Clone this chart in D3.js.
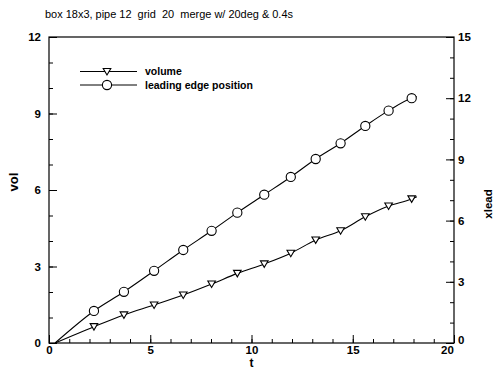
<!DOCTYPE html>
<html>
<head>
<meta charset="utf-8">
<script src="https://cdn.jsdelivr.net/npm/d3@7"></script>
<style>
    body { margin: 0; background: #fff; }
    text { font-family: "Liberation Sans", Arial, sans-serif; fill: #000; }
</style>
</head>
<body>
<div id="chart"></div>
<script>
/**
 * Data. First and last entries are the curve ends (no marker).
 */
const tValues = [0.3, 2.22, 3.70, 5.19, 6.63, 8.03, 9.30, 10.63, 11.94, 13.17, 14.40, 15.62, 16.77, 17.91, 18.17];
const volValues = [0, 0.64, 1.10, 1.49, 1.88, 2.31, 2.73, 3.10, 3.52, 4.04, 4.40, 4.95, 5.37, 5.65, 5.74];
const xleadValues = [0, 1.57, 2.51, 3.54, 4.56, 5.50, 6.39, 7.27, 8.14, 9.02, 9.79, 10.64, 11.39, 12.0, 12.07];

const xTicks = [0, 5, 10, 15, 20];
const volTicks = [0, 3, 6, 9, 12];
const xleadTicks = [0, 3, 6, 9, 12, 15];

const legendLabels = ["volume", "leading edge position"];
const titleText = "box 18x3, pipe 12  grid  20  merge w/ 20deg & 0.4s";

/**
 * Proportions of the SVG
 */
let svgWidth = 494;
let svgHeight = 370;

let plotLeft = 49;
let plotRight = 454;
let plotTop = 37;
let plotBottom = 343;

let majorTick = 8;
let minorTick = 4;

const x = d3.scaleLinear().domain([0, 20]).range([plotLeft, plotRight]);
const yVol = d3.scaleLinear().domain([0, 12]).range([plotBottom, plotTop]);
const yLead = d3.scaleLinear().domain([0, 15]).range([plotBottom, plotTop]);

const svg = d3.select("#chart")
    .append("svg")
    .attr("width", svgWidth)
    .attr("height", svgHeight);

drawAxes();
drawSeries();
drawLegend();
drawLabels();

function styleAxis(g) {
    g.select(".domain").remove();
    g.selectAll("line").attr("stroke", "#000").attr("stroke-width", 1);
    g.selectAll("text")
        .attr("font-size", 11.5)
        .attr("font-weight", "bold");
}

function range1(a, b) {
    const out = [];
    for (let i = a; i <= b; i++) out.push(i);
    return out;
}

/**
 * Frame, ticks (inward) and tick labels
 */
function drawAxes() {
    // minor ticks
    svg.append("g")
        .attr("transform", `translate(0,${plotBottom})`)
        .call(d3.axisBottom(x).tickValues(range1(0, 20)).tickSize(-minorTick).tickFormat(""))
        .call(styleAxis);
    svg.append("g")
        .attr("transform", `translate(${plotLeft},0)`)
        .call(d3.axisLeft(yVol).tickValues(range1(0, 12)).tickSize(-minorTick).tickFormat(""))
        .call(styleAxis);
    svg.append("g")
        .attr("transform", `translate(${plotRight},0)`)
        .call(d3.axisRight(yLead).tickValues(range1(0, 15)).tickSize(-minorTick).tickFormat(""))
        .call(styleAxis);

    // major ticks
    const bottomAxis = svg.append("g")
        .attr("transform", `translate(0,${plotBottom})`)
        .call(d3.axisBottom(x).tickValues(xTicks).tickSize(-majorTick).tickPadding(3).tickFormat(d3.format("d")))
        .call(styleAxis);
    // last label sits left of the corner, as in the original
    bottomAxis.selectAll(".tick text")
        .filter(d => d === 20)
        .attr("x", -7);

    svg.append("g")
        .attr("transform", `translate(${plotLeft},0)`)
        .call(d3.axisLeft(yVol).tickValues(volTicks).tickSize(-majorTick).tickPadding(8).tickFormat(d3.format("d")))
        .call(styleAxis);
    const rightAxis = svg.append("g")
        .attr("transform", `translate(${plotRight},0)`)
        .call(d3.axisRight(yLead).tickValues(xleadTicks).tickSize(-majorTick).tickPadding(4).tickFormat(d3.format("d")))
        .call(styleAxis);
    rightAxis.selectAll(".tick text")
        .filter(d => d === 0)
        .attr("y", -3);

    // frame
    svg.append("rect")
        .attr("x", plotLeft)
        .attr("y", plotTop)
        .attr("width", plotRight - plotLeft)
        .attr("height", plotBottom - plotTop)
        .attr("fill", "none")
        .attr("stroke", "#000")
        .attr("stroke-width", 1.2);
}

function triPath(r) {
    return `M${-r},${-r * 0.8}L${r},${-r * 0.8}L0,${r * 0.9}Z`;
}

/**
 * Lines and markers
 */
function drawSeries() {
    const volData = tValues.map((t, i) => ({ t, v: volValues[i], mark: i > 0 && i < tValues.length - 1 }));
    const leadData = tValues.map((t, i) => ({ t, v: xleadValues[i], mark: i > 0 && i < tValues.length - 1 }));

    const volLine = d3.line().x(d => x(d.t)).y(d => yVol(d.v)).curve(d3.curveMonotoneX);
    const leadLine = d3.line().x(d => x(d.t)).y(d => yLead(d.v)).curve(d3.curveMonotoneX);

    svg.append("path")
        .attr("d", volLine(volData))
        .attr("fill", "none")
        .attr("stroke", "#000")
        .attr("stroke-width", 1.1);
    svg.append("path")
        .attr("d", leadLine(leadData))
        .attr("fill", "none")
        .attr("stroke", "#000")
        .attr("stroke-width", 1.1);

    svg.selectAll(".volMarker")
        .data(volData.filter(d => d.mark))
        .enter()
        .append("path")
        .attr("class", "volMarker")
        .attr("transform", d => `translate(${x(d.t)},${yVol(d.v)})`)
        .attr("d", triPath(3.8))
        .attr("fill", "#fff")
        .attr("stroke", "#000")
        .attr("stroke-width", 1.1);

    svg.selectAll(".leadMarker")
        .data(leadData.filter(d => d.mark))
        .enter()
        .append("circle")
        .attr("class", "leadMarker")
        .attr("cx", d => x(d.t))
        .attr("cy", d => yLead(d.v))
        .attr("r", 4.6)
        .attr("fill", "#fff")
        .attr("stroke", "#000")
        .attr("stroke-width", 1.1);
}

/**
 * Legend
 */
function drawLegend() {
    const rows = [71.5, 85];
    const lineX1 = 80, lineX2 = 137, markX = 107, textX = 145;

    const g = svg.selectAll(".legendRow")
        .data(legendLabels)
        .enter()
        .append("g")
        .attr("class", "legendRow")
        .attr("transform", (_, i) => `translate(0,${rows[i]})`);

    g.append("line")
        .attr("x1", lineX1).attr("x2", lineX2)
        .attr("stroke", "#000").attr("stroke-width", 1);

    g.filter((_, i) => i === 0).append("path")
        .attr("transform", `translate(${markX},0)`)
        .attr("d", triPath(3.8))
        .attr("fill", "#fff").attr("stroke", "#000").attr("stroke-width", 1.1);
    g.filter((_, i) => i === 1).append("circle")
        .attr("cx", markX).attr("r", 4.6)
        .attr("fill", "#fff").attr("stroke", "#000").attr("stroke-width", 1.1);

    g.append("text")
        .attr("x", textX)
        .attr("dy", "0.35em")
        .attr("font-size", 10.5)
        .attr("font-weight", "bold")
        .text(d => d);
}

/**
 * Title and axis titles
 */
function drawLabels() {
    svg.append("text")
        .attr("x", 45)
        .attr("y", 18)
        .attr("font-size", 10)
        .attr("xml:space", "preserve")
        .style("white-space", "pre")
        .attr("textLength", 248)
        .attr("lengthAdjust", "spacingAndGlyphs")
        .text(titleText);

    svg.append("text")
        .attr("transform", "translate(18,182) rotate(-90)")
        .attr("text-anchor", "middle")
        .attr("font-size", 13)
        .attr("font-weight", "bold")
        .text("vol");

    svg.append("text")
        .attr("transform", "translate(492,204) rotate(-90)")
        .attr("text-anchor", "middle")
        .attr("font-size", 11.5)
        .attr("font-weight", "bold")
        .text("xlead");

    svg.append("text")
        .attr("x", x(10))
        .attr("y", 367)
        .attr("text-anchor", "middle")
        .attr("font-size", 12)
        .attr("font-weight", "bold")
        .text("t");
}
</script>
</body>
</html>
